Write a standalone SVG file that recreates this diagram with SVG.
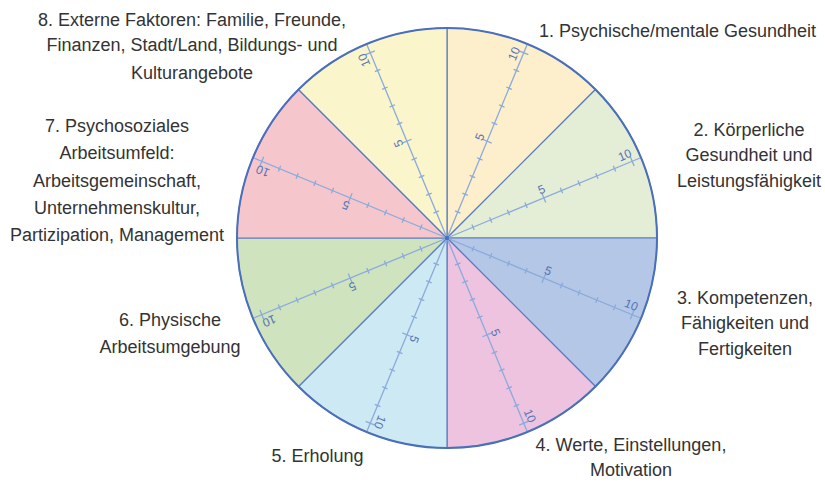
<svg xmlns="http://www.w3.org/2000/svg" xmlns:xlink="http://www.w3.org/1999/xlink" width="825" height="484" viewBox="0 0 825 484">
  <style>
    .slice { stroke: #5a7cc0; stroke-width: 1.2; stroke-linejoin: round; }
    .rim { fill: none; stroke: #4a6fbb; stroke-width: 2; }
    .axis { stroke: #8aaadb; stroke-width: 1.3; fill: none; }
    .num { font-family: "Liberation Sans", Arial, sans-serif; font-size: 12px; fill: #5475b5; text-anchor: middle; }
    .lbl { font-family: "Liberation Sans", Arial, sans-serif; font-size: 18px; fill: #333333; text-anchor: middle; }
  </style>
  <defs>
    <!-- radial scale 0..10 drawn along +x from the wheel centre -->
    <g id="scale">
      <line class="axis" x1="0" y1="0" x2="209" y2="0"/>
      <path class="axis" d="M28.2,-3V3 M47.3,-3V3 M66.5,-3V3 M85.6,-3V3 M104.8,-5V5 M123.9,-3V3 M143,-3V3 M162.2,-3V3 M181.3,-3V3 M200.5,-5V5"/>
      <text class="num" x="106" y="-4.5">5</text>
      <text class="num" x="196" y="-4.5">10</text>
    </g>
  </defs>

  <!-- wheel segments -->
  <g id="segments">
    <g id="seg1"><path class="slice" fill="#FDEFCB" d="M447,238 L447,28 A210,210 0 0 1 595.49,89.51 Z"/></g>
    <g id="seg2"><path class="slice" fill="#E4EED7" d="M447,238 L595.49,89.51 A210,210 0 0 1 657,238 Z"/></g>
    <g id="seg3"><path class="slice" fill="#B4C7E7" d="M447,238 L657,238 A210,210 0 0 1 595.49,386.49 Z"/></g>
    <g id="seg4"><path class="slice" fill="#EDC3DF" d="M447,238 L595.49,386.49 A210,210 0 0 1 447,448 Z"/></g>
    <g id="seg5"><path class="slice" fill="#CDE9F4" d="M447,238 L447,448 A210,210 0 0 1 298.51,386.49 Z"/></g>
    <g id="seg6"><path class="slice" fill="#D0E3BF" d="M447,238 L298.51,386.49 A210,210 0 0 1 237,238 Z"/></g>
    <g id="seg7"><path class="slice" fill="#F5C7CD" d="M447,238 L237,238 A210,210 0 0 1 298.51,89.51 Z"/></g>
    <g id="seg8"><path class="slice" fill="#FBF5CB" d="M447,238 L298.51,89.51 A210,210 0 0 1 447,28 Z"/></g>
  </g>

  <!-- scales, one per segment bisector -->
  <g id="scales">
    <use xlink:href="#scale" href="#scale" transform="translate(447 238) rotate(-67.5)"/>
    <use xlink:href="#scale" href="#scale" transform="translate(447 238) rotate(-22.5)"/>
    <use xlink:href="#scale" href="#scale" transform="translate(447 238) rotate(22.5)"/>
    <use xlink:href="#scale" href="#scale" transform="translate(447 238) rotate(67.5)"/>
    <use xlink:href="#scale" href="#scale" transform="translate(447 238) rotate(112.5)"/>
    <use xlink:href="#scale" href="#scale" transform="translate(447 238) rotate(157.5)"/>
    <use xlink:href="#scale" href="#scale" transform="translate(447 238) rotate(202.5)"/>
    <use xlink:href="#scale" href="#scale" transform="translate(447 238) rotate(247.5)"/>
  </g>

  <circle class="rim" cx="447" cy="238" r="210"/>
  <circle cx="447" cy="238" r="2.2" fill="#4a6fbb"/>

  <!-- segment captions -->
  <g id="label1">
    <text class="lbl" x="677.5" y="37">1. Psychische/mentale Gesundheit</text>
  </g>
  <g id="label2">
    <text class="lbl" x="749" y="136">2. Körperliche</text>
    <text class="lbl" x="749" y="161">Gesundheit und</text>
    <text class="lbl" x="749" y="187">Leistungsfähigkeit</text>
  </g>
  <g id="label3">
    <text class="lbl" x="745" y="304">3. Kompetenzen,</text>
    <text class="lbl" x="745" y="329">Fähigkeiten und</text>
    <text class="lbl" x="745" y="355">Fertigkeiten</text>
  </g>
  <g id="label4">
    <text class="lbl" x="631" y="451">4. Werte, Einstellungen,</text>
    <text class="lbl" x="631" y="476">Motivation</text>
  </g>
  <g id="label5">
    <text class="lbl" x="317.5" y="462">5. Erholung</text>
  </g>
  <g id="label6">
    <text class="lbl" x="170" y="326">6. Physische</text>
    <text class="lbl" x="170" y="353">Arbeitsumgebung</text>
  </g>
  <g id="label7">
    <text class="lbl" x="117" y="132">7. Psychosoziales</text>
    <text class="lbl" x="117" y="159">Arbeitsumfeld:</text>
    <text class="lbl" x="117" y="187">Arbeitsgemeinschaft,</text>
    <text class="lbl" x="117" y="214">Unternehmenskultur,</text>
    <text class="lbl" x="117" y="241">Partizipation, Management</text>
  </g>
  <g id="label8">
    <text class="lbl" x="192" y="26">8. Externe Faktoren: Familie, Freunde,</text>
    <text class="lbl" x="192" y="51">Finanzen, Stadt/Land, Bildungs- und</text>
    <text class="lbl" x="192" y="79">Kulturangebote</text>
  </g>
</svg>
